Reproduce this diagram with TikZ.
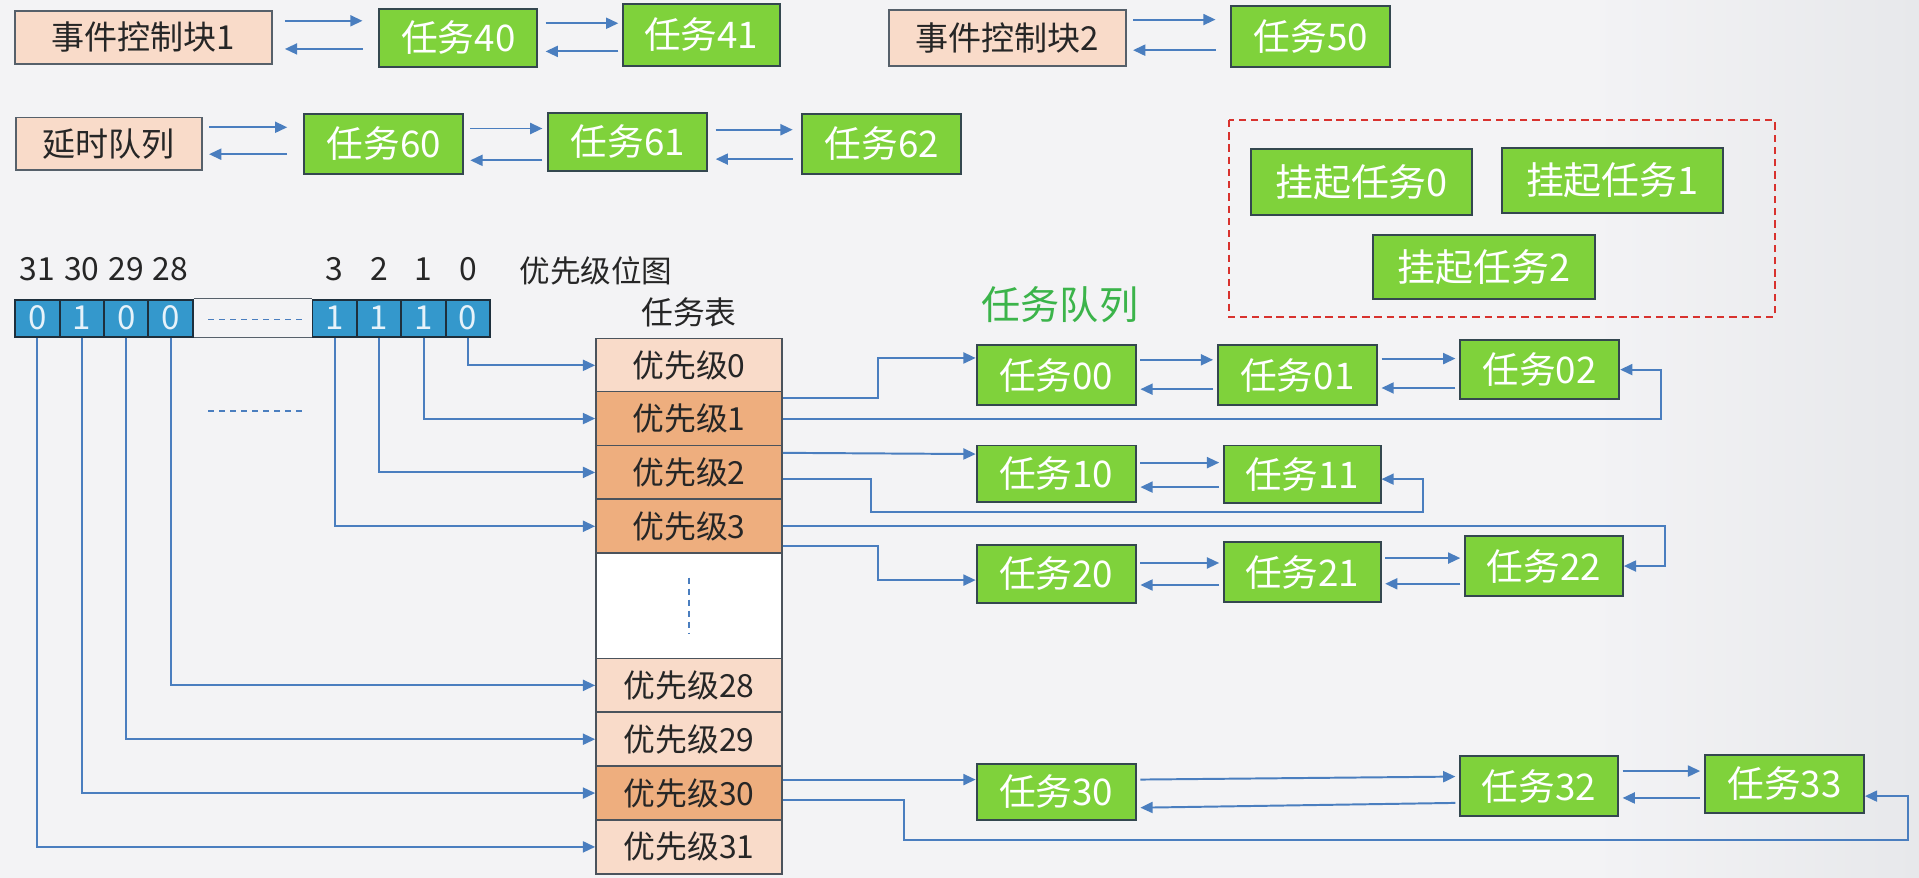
\documentclass[tikz,border=0pt]{standalone}
\usepackage{fontspec}
\setmainfont{Noto Sans CJK SC}
\usepackage{tikz}
\usetikzlibrary{arrows.meta}
\definecolor{bgleft}{HTML}{F3F3F5}
\definecolor{bgright}{HTML}{E7E8EB}
\definecolor{taskgreen}{HTML}{7FD23B}
\definecolor{boxedge}{HTML}{34474F}
\definecolor{peach}{HTML}{F9DBC9}
\definecolor{headedge}{HTML}{56606A}
\definecolor{prioorange}{HTML}{EEAE7E}
\definecolor{rowedge}{HTML}{4B535C}
\definecolor{bitblue}{HTML}{3498CC}
\definecolor{bitedge}{HTML}{1E2F3C}
\definecolor{bittext}{HTML}{E6F2FA}
\definecolor{linkblue}{HTML}{4A7EBF}
\definecolor{suspred}{HTML}{D8322E}
\definecolor{queuegreen}{HTML}{3BB44A}
\newcommand\fsz[1]{\fontsize{#1}{#1}\selectfont}

\begin{document}
\begin{tikzpicture}[x=1pt, y=-1pt,
  task/.style={draw=boxedge, line width=1.6pt, fill=taskgreen, text=white, inner sep=0pt,
    minimum width=130pt, minimum height=48pt, font=\fsz{30}},
  susp/.style={task, minimum width=181pt, minimum height=53pt, font=\fsz{31}},
  head/.style={draw=headedge, line width=1.6pt, fill=peach, text=black!85, inner sep=0pt, font=\fsz{27}},
  prio/.style={draw=rowedge, line width=1.4pt, minimum width=152pt, minimum height=44pt,
    inner sep=0pt, text=black!85, font=\fsz{26}},
  bit/.style={draw=bitedge, line width=1.6pt, fill=bitblue, text=bittext, inner sep=0pt,
    minimum width=36.3pt, minimum height=30pt, font=\fsz{27}},
  bitnum/.style={text=black!85, inner sep=0pt, font=\fsz{26}},
  link/.style={draw=linkblue, line width=1.6pt, -{Triangle[length=10pt,width=9pt]}},
  pair/.style={link, shorten <=3pt, shorten >=3pt},
  dots/.style={draw=linkblue, line width=1.4pt, dash pattern=on 5pt off 4pt}]

\useasboundingbox (0,0) rectangle (1568,717.4);
\fill[bgleft] (0,0) rectangle (1568,717.4);
\shade[left color=bgleft, right color=bgright] (1300,0) rectangle (1568,717.4);

%% event control blocks and the delay list
\path
(117,30.5) node[head, minimum width=210pt, minimum height=43pt](ecb1){事件控制块1}
(374.5,31) node[task, minimum width=129pt](t40){任务40}
(573,28.5) node[task, minimum width=128pt, minimum height=51pt](t41){任务41}
(823,31) node[head, minimum width=194pt, minimum height=46pt](ecb2){事件控制块2}
(1071,30) node[task, minimum height=50pt](t50){任务50}
(89,117.5) node[head, minimum width=152pt, minimum height=43pt](delay){延时队列}
(313.5,117.5) node[task, minimum height=49pt](t60){任务60}
(513,116) node[task](t61){任务61}
(720.5,117.5) node[task, minimum height=49pt](t62){任务62};

\draw[link, shorten <=10pt, shorten >=13pt] ([yshift=13.5pt]ecb1.east) -- ([yshift=14pt]t40.west);
\draw[link, shorten <=13pt, shorten >=10pt] ([yshift=-9pt]t40.west) -- ([yshift=-9.5pt]ecb1.east);
\draw[link, shorten <=6pt, shorten >=3pt] ([yshift=12pt]t40.east) -- ([yshift=9.5pt]t41.west);
\draw[link, shorten <=3pt, shorten >=6pt] ([yshift=-13.5pt]t41.west) -- ([yshift=-11pt]t40.east);
\draw[link, shorten <=5pt, shorten >=12pt] ([yshift=15pt]ecb2.east) -- ([yshift=14pt]t50.west);
\draw[link, shorten <=12pt, shorten >=5pt] ([yshift=-11pt]t50.west) -- ([yshift=-10pt]ecb2.east);
\draw[link, shorten <=5pt, shorten >=13pt] ([yshift=13.5pt]delay.east) -- ([yshift=13.5pt]t60.west);
\draw[link, shorten <=13pt, shorten >=5pt] ([yshift=-8.5pt]t60.west) -- ([yshift=-8.5pt]delay.east);
\draw[link, shorten <=5pt, shorten >=4pt] ([yshift=12.5pt]t60.east) -- ([yshift=11pt]t61.west);
\draw[link, shorten <=4pt, shorten >=5pt] ([yshift=-15pt]t61.west) -- ([yshift=-13.5pt]t60.east);
\draw[link, shorten <=6pt, shorten >=7pt] ([yshift=10pt]t61.east) -- ([yshift=11.5pt]t62.west);
\draw[link, shorten <=7pt, shorten >=6pt] ([yshift=-12.5pt]t62.west) -- ([yshift=-14pt]t61.east);

%% suspended tasks
\draw[suspred, line width=1.5pt, dash pattern=on 6pt off 4pt] (1004,98) rectangle (1450,259);
\path
(1112.5,149) node[susp, minimum height=54pt](s0){挂起任务0}
(1317.5,147.5) node[susp](s1){挂起任务1}
(1212.5,218) node[susp, minimum height=52pt](s2){挂起任务2}
(866,249) node[text=queuegreen, font=\fsz{32}](qtitle){任务队列};

%% priority bitmap
\foreach \n/\x/\v in {31/30.5/0,30/66.8/1,29/103.1/0,28/139.4/0,3/273.5/1,2/309.8/1,1/346.1/1,0/382.4/0}{
  \node[bit] (b\n) at (\x,260) {\v};
  \node[bitnum] (l\n) at (\x,220) {\n};
}
\draw[draw=headedge, line width=1pt] (b28.north east) -- (b3.north west);
\draw[draw=headedge, line width=1pt] (b28.south east) -- (b3.south west);
\draw[dots] (170,261) -- (250,261);
\draw[dots] (170,336) -- (250,336);
\node[text=black!85, font=\fsz{25}] (btitle) at (487,221) {优先级位图};

%% task table
\node[text=black!85, font=\fsz{26}] (ttitle) at (563,255) {任务表};
\foreach \n/\y/\c in {0/298.5/peach,1/342/prioorange,2/386/prioorange,3/430/prioorange,28/560/peach,29/604/peach,30/648/prioorange,31/692/peach}
  \node[prio, fill=\c] (p\n) at (563,\y) {优先级\n};
\node[prio, fill=white, minimum height=86pt] (pgap) at (563,495) {};
\draw[dots] (563,472) -- (563,518);

\foreach \n in {0,1,2,3,28,29,30,31}
  \draw[link] (b\n.south) |- (p\n.west);

%% ready queues
\path
(863,306.5) node[task, minimum height=49pt](t00){任务00}
(1060,306.5) node[task, minimum height=49pt](t01){任务01}
(1258,302) node[task](t02){任务02}
(863,387) node[task, minimum height=46pt](t10){任务10}
(1064,387.5) node[task, minimum width=128pt, minimum height=47pt](t11){任务11}
(863,469) node[task](t20){任务20}
(1064,467.5) node[task, minimum width=128pt, minimum height=49pt](t21){任务21}
(1261.5,462.5) node[task, minimum width=129pt, minimum height=49pt](t22){任务22}
(863,647) node[task, minimum height=46pt](t30){任务30}
(1257.5,642.5) node[task, minimum width=129pt, minimum height=49pt](t32){任务32}
(1458,640.5) node[task, minimum height=47pt](t33){任务33};

\draw[pair] ([yshift=12.5pt]t00.east) -- ([yshift=12.5pt]t01.west);
\draw[pair] ([yshift=-11.5pt]t01.west) -- ([yshift=-11.5pt]t00.east);
\draw[pair] ([yshift=13.5pt]t01.east) -- ([yshift=9pt]t02.west);
\draw[pair] ([yshift=-15pt]t02.west) -- ([yshift=-10.5pt]t01.east);
\draw[pair] ([yshift=9pt]t10.east) -- ([yshift=9.5pt]t11.west);
\draw[pair] ([yshift=-10.5pt]t11.west) -- ([yshift=-11pt]t10.east);
\draw[pair] ([yshift=9pt]t20.east) -- ([yshift=7.5pt]t21.west);
\draw[pair] ([yshift=-10.5pt]t21.west) -- ([yshift=-9pt]t20.east);
\draw[pair] ([yshift=11.5pt]t21.east) -- ([yshift=6.5pt]t22.west);
\draw[pair] ([yshift=-14.5pt]t22.west) -- ([yshift=-9.5pt]t21.east);
\draw[pair] ([yshift=10pt]t30.east) -- ([yshift=8pt]t32.west);
\draw[pair] ([yshift=-13.5pt]t32.west) -- ([yshift=-13pt]t30.east);
\draw[pair] ([yshift=12.5pt]t32.east) -- ([yshift=10.5pt]t33.west);
\draw[pair] ([yshift=-11.5pt]t33.west) -- ([yshift=-9.5pt]t32.east);

%% list heads and tails from the table
\draw[link] ([yshift=17pt]p1.east) -- ++(78,0) |- ([yshift=14pt]t00.west);
\draw[link] (p1.east) -| ([xshift=33pt]t02.east) -- (t02.east);
\draw[link] ([yshift=16pt]p2.east) -- ([yshift=16pt]t10.west);
\draw[link] ([yshift=-5pt]p2.east) -- ++(72,0) |- ([xshift=34pt,yshift=-31pt]t11.east) |- ([yshift=-4pt]t11.east);
\draw[link] (p3.east) -| ([xshift=34pt]t22.east) -- (t22.east);
\draw[link] ([yshift=-16pt]p3.east) -- ++(78,0) |- ([yshift=-5pt]t20.west);
\draw[link] ([yshift=11pt]p30.east) -- ([yshift=10pt]t30.west);
\draw[link] ([yshift=-6pt]p30.east) -- ++(99,0) |- ([xshift=35pt,yshift=-46pt]t33.east) |- ([yshift=-10pt]t33.east);

\end{tikzpicture}
\end{document}
